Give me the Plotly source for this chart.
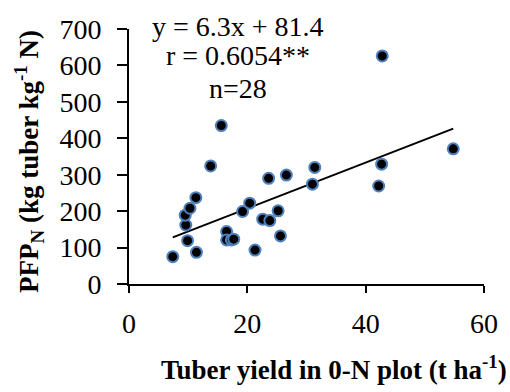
import plotly.graph_objects as go

# Tuber yield in the 0-N plot (t/ha) and partial factor productivity of N
tuber_yield = [7.4, 9.9, 11.4, 9.6, 9.5, 10.3, 11.3, 13.8, 15.6, 16.5, 16.5, 17.3,
               17.7, 19.2, 20.4, 21.3, 22.6, 23.6, 42.8, 23.8, 25.2, 26.6, 31.4,
               31.0, 42.7, 42.2, 54.8, 25.6]
pfp_n = [75, 119, 87, 162, 189, 208, 237, 324, 435, 144, 121, 121,
         123, 199, 222, 93, 178, 290, 626, 174, 201, 299, 320,
         274, 329, 269, 371, 132]

# Linear fit reported on the chart
slope = 6.3
intercept = 81.4
equation_lines = ["y = 6.3x + 81.4", "r = 0.6054**", "n=28"]

x_ticks = [0, 20, 40, 60]
y_ticks = [0, 100, 200, 300, 400, 500, 600, 700]

SERIF = "Liberation Serif"

fit_x = [min(tuber_yield), max(tuber_yield)]
fit_y = [slope * v + intercept for v in fit_x]

fig = go.Figure()
fig.add_trace(go.Scatter(
    x=fit_x, y=fit_y, mode="lines",
    line=dict(color="black", width=2),
    showlegend=False, hoverinfo="skip",
))
fig.add_trace(go.Scatter(
    x=tuber_yield, y=pfp_n, mode="markers",
    marker=dict(size=11, color="black", line=dict(color="#4F81BD", width=2)),
    showlegend=False,
))

axis_common = dict(
    showgrid=False, zeroline=False, showline=True,
    linecolor="black", linewidth=2,
    ticks="outside", tickcolor="black", tickwidth=2,
    tickfont=dict(family=SERIF, size=28, color="black"),
)
fig.update_xaxes(range=[0, 60], tickvals=x_ticks, ticklen=7,
                 ticklabelstandoff=6, **axis_common)
fig.update_yaxes(range=[0, 700], tickvals=y_ticks, ticklen=10,
                 ticklabelstandoff=10, **axis_common)

annotations = []
for text, yp in zip(equation_lines, [1.01, 0.895, 0.765]):
    annotations.append(dict(
        text=text, xref="paper", yref="paper", x=0.307, y=yp,
        xanchor="center", yanchor="middle", showarrow=False,
        font=dict(family=SERIF, size=28, color="black"),
    ))
annotations.append(dict(
    text="<b>Tuber yield in 0-N plot (t ha<sup>-1</sup>)</b>",
    xref="paper", yref="paper", x=0.577, y=-0.33,
    xanchor="center", yanchor="middle", showarrow=False,
    font=dict(family=SERIF, size=27, color="black"),
))
annotations.append(dict(
    text="<b>PFP<sub>N</sub> (kg tuber kg<sup>-1</sup> N)</b>",
    xref="paper", yref="paper", x=-0.282, y=0.482,
    xanchor="center", yanchor="middle", textangle=-90, showarrow=False,
    font=dict(family=SERIF, size=27, color="black"),
))

fig.update_layout(
    width=510, height=392,
    margin=dict(l=129, r=20, t=29, b=108),
    paper_bgcolor="white", plot_bgcolor="white",
    annotations=annotations,
)

fig.write_html("out.html")
